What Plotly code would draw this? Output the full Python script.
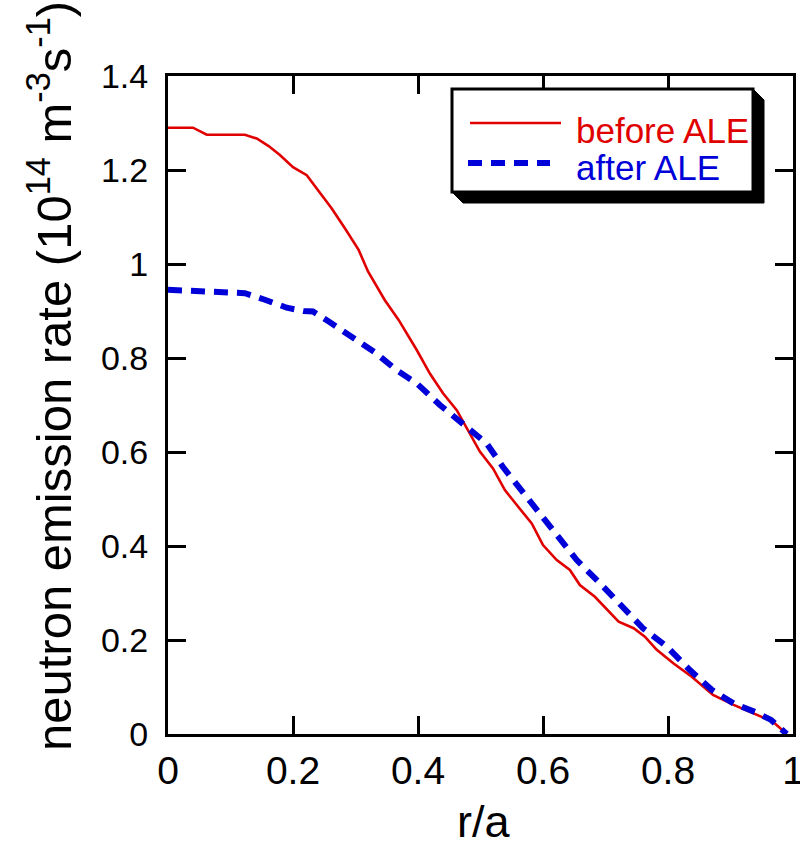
import plotly.graph_objects as go

# ---- data ----
r_before = [0.0, 0.04, 0.062, 0.123, 0.142, 0.161, 0.179, 0.2, 0.222, 0.241, 0.262, 0.283,
            0.305, 0.32, 0.347, 0.369, 0.398, 0.419, 0.44, 0.462, 0.483, 0.499, 0.52, 0.539,
            0.56, 0.582, 0.6, 0.622, 0.643, 0.659, 0.683, 0.721, 0.745, 0.763, 0.782, 0.809,
            0.838, 0.872, 0.905, 0.936, 0.968, 0.99]
v_before = [1.29, 1.29, 1.275, 1.275, 1.267, 1.251, 1.232, 1.206, 1.189, 1.154, 1.118, 1.076,
            1.03, 0.984, 0.923, 0.881, 0.817, 0.767, 0.725, 0.689, 0.64, 0.601, 0.565, 0.519,
            0.484, 0.448, 0.402, 0.37, 0.349, 0.317, 0.292, 0.239, 0.225, 0.207, 0.179, 0.15,
            0.122, 0.083, 0.062, 0.044, 0.026, 0.0]

r_after = [0.0, 0.06, 0.123, 0.155, 0.19, 0.217, 0.232, 0.259, 0.293, 0.33, 0.366, 0.398,
           0.435, 0.472, 0.51, 0.536, 0.568, 0.6, 0.622, 0.654, 0.691, 0.726, 0.76, 0.798,
           0.835, 0.87, 0.905, 0.939, 0.965, 0.99]
v_after = [0.945, 0.942, 0.938, 0.924, 0.907, 0.9, 0.899, 0.876, 0.845, 0.813, 0.774, 0.746,
           0.70, 0.661, 0.618, 0.568, 0.515, 0.462, 0.423, 0.37, 0.321, 0.271, 0.225, 0.186,
           0.136, 0.094, 0.065, 0.047, 0.03, 0.0]

x_ticks = [0, 0.2, 0.4, 0.6, 0.8, 1]
y_ticks = [0, 0.2, 0.4, 0.6, 0.8, 1, 1.2, 1.4]
series_names = ["before ALE", "after ALE"]

# ---- layout geometry (pixels) ----
W, H = 800, 847
L, R, T, B = 168, 7, 76, 113
PW, PH = W - L - R, H - T - B

def px(x):
    return (x - L) / PW

def py(y):
    return (H - B - y) / PH

FONT = "Liberation Sans, Arial, sans-serif"
RED = "#e00000"
BLUE = "#0000d8"

fig = go.Figure()
fig.add_trace(go.Scatter(x=r_before, y=v_before, mode="lines", name=series_names[0],
                         line=dict(color=RED, width=2.6)))
fig.add_trace(go.Scatter(x=r_after, y=v_after, mode="lines", name=series_names[1],
                         line=dict(color=BLUE, width=6, dash="14px,9px")))

axis_common = dict(showline=True, linecolor="black", linewidth=3, mirror="ticks",
                   ticks="inside", ticklen=18, tickwidth=3, tickcolor="black",
                   showgrid=False, zeroline=False, ticklabeloverflow="allow")

fig.update_xaxes(range=[0, 1], tickvals=x_ticks, ticktext=[f"{v:g}" for v in x_ticks],
                 tickfont=dict(family=FONT, size=39, color="black"), **axis_common)
fig.update_yaxes(range=[0, 1.4], tickvals=y_ticks, ticktext=[f"{v:g}" for v in y_ticks],
                 tickfont=dict(family=FONT, size=34, color="black"),
                 ticklabelstandoff=10, **axis_common)

shapes = []
# legend shadow
bx0, by0, bx1, by1 = 452, 89, 753, 192
sh = 11
path = (f"M {px(bx1)},{py(by0)} L {px(bx1+sh)},{py(by0+sh)} L {px(bx1+sh)},{py(by1+sh)} "
        f"L {px(bx0+sh)},{py(by1+sh)} L {px(bx0)},{py(by1)} L {px(bx1)},{py(by1)} Z")
shapes.append(dict(type="path", xref="paper", yref="paper", path=path,
                   fillcolor="black", line=dict(color="black", width=1)))
shapes.append(dict(type="rect", xref="paper", yref="paper",
                   x0=px(bx0), x1=px(bx1), y0=py(by1), y1=py(by0),
                   fillcolor="white", line=dict(color="black", width=3)))
shapes.append(dict(type="line", xref="paper", yref="paper",
                   x0=px(470), x1=px(561), y0=py(123), y1=py(123),
                   line=dict(color=RED, width=2.6)))
shapes.append(dict(type="line", xref="paper", yref="paper",
                   x0=px(468), x1=px(550), y0=py(163), y1=py(163),
                   line=dict(color=BLUE, width=6, dash="14px,9px")))

annotations = [
    dict(xref="paper", yref="paper", x=px(574), y=py(130), xanchor="left", yanchor="middle",
         text=series_names[0], showarrow=False, font=dict(family=FONT, size=35, color=RED)),
    dict(xref="paper", yref="paper", x=px(574), y=py(168), xanchor="left", yanchor="middle",
         text=series_names[1], showarrow=False, font=dict(family=FONT, size=35, color=BLUE)),
    dict(xref="paper", yref="paper", x=px(483), y=py(822), xanchor="center", yanchor="middle",
         text="r/a", showarrow=False, font=dict(family=FONT, size=45, color="black")),
    dict(xref="paper", yref="paper", x=px(50), y=py(376), xanchor="center", yanchor="middle",
         textangle=-90, showarrow=False,
         text="neutron emission rate (10<sup>14</sup> m<sup>-3</sup>s<sup>-1</sup>)",
         font=dict(family=FONT, size=49, color="black")),
]

fig.update_layout(width=W, height=H, margin=dict(l=L, r=R, t=T, b=B, autoexpand=False),
                  paper_bgcolor="white", plot_bgcolor="white", showlegend=False,
                  shapes=shapes, annotations=annotations)

fig.write_html("out.html")
